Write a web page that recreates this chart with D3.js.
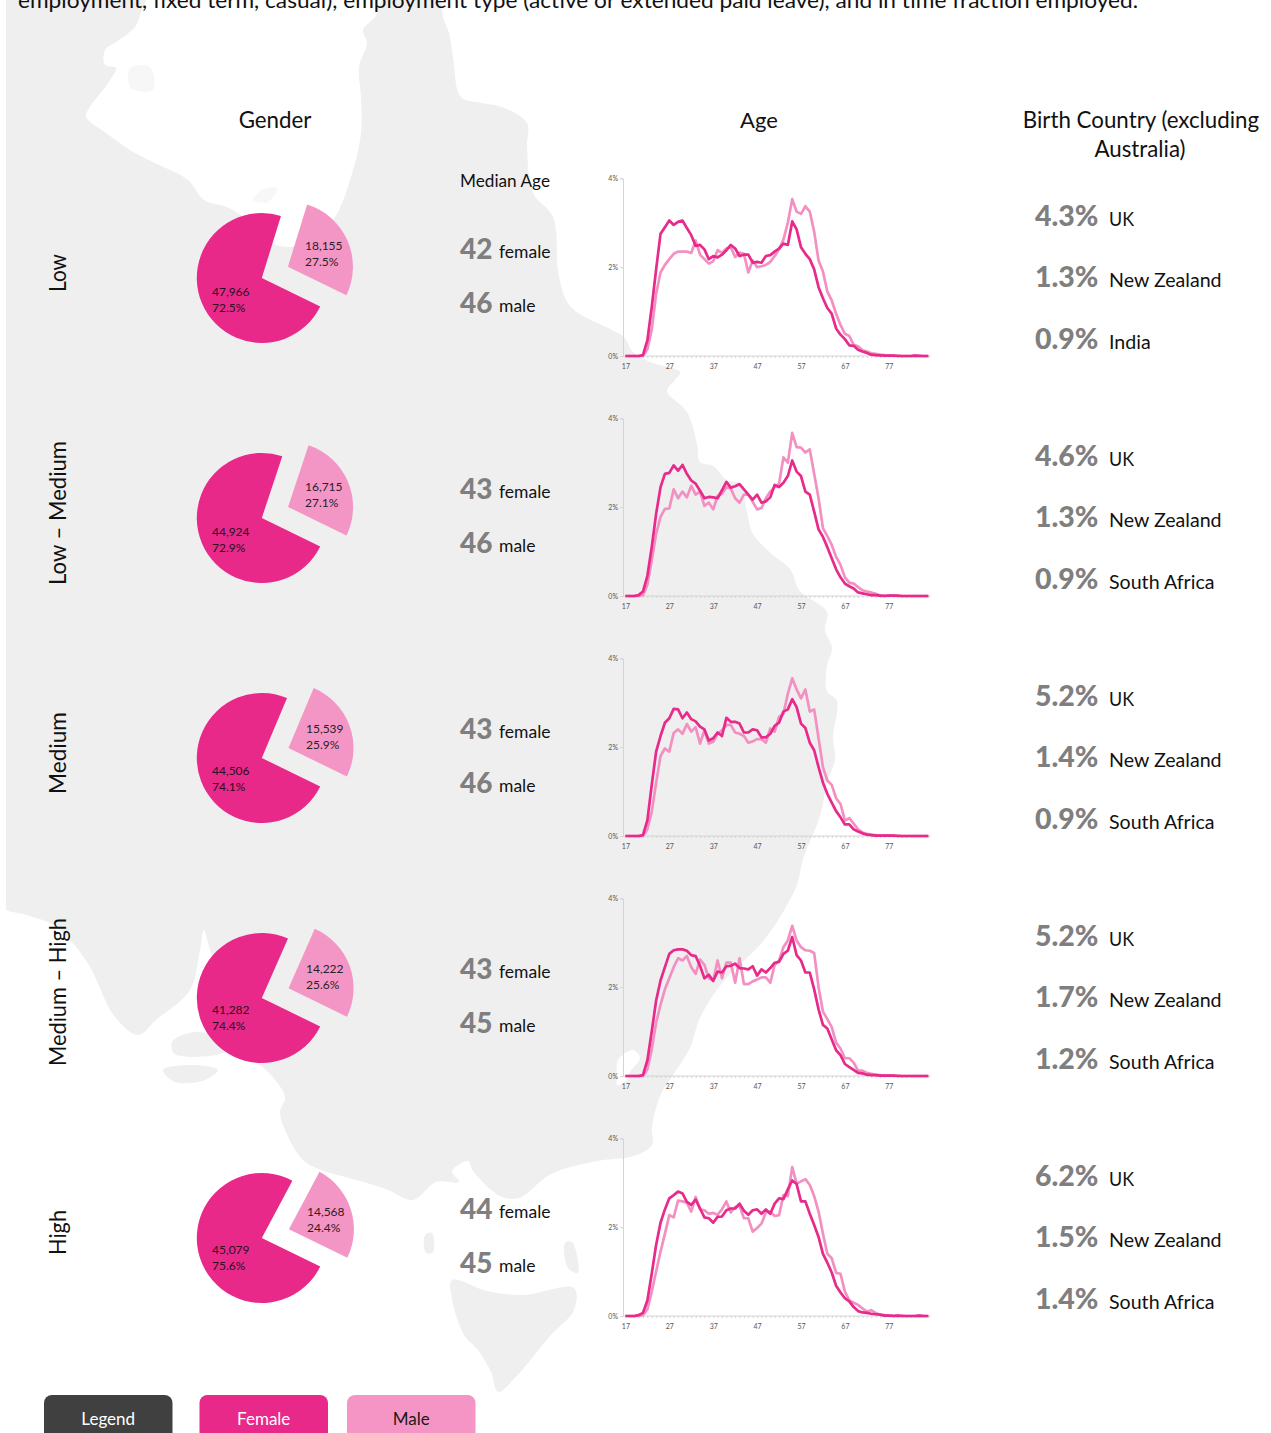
<!DOCTYPE html>
<html><head><meta charset="utf-8">
<script src="https://cdn.jsdelivr.net/npm/d3@7"></script>
<style>html,body{margin:0;padding:0;background:#fff;overflow:hidden}svg{display:block}text{font-family:Lato,sans-serif}</style>
</head><body><svg id="c" width="1271" height="1433"></svg>
<script>
// ---------- data ----------
const bands = ["Low","Low – Medium","Medium","Medium – High","High"];
const femaleCounts = [47966,44924,44506,41282,45079];
const maleCounts = [18155,16715,15539,14222,14568];
const femaleShares = ["72.5%","72.9%","74.1%","74.4%","75.6%"];
const maleShares = ["27.5%","27.1%","25.9%","25.6%","24.4%"];
const femaleMedian = [42,43,43,43,44];
const maleMedian = [46,46,46,45,45];
const countryNames = [["UK","New Zealand","India"],["UK","New Zealand","South Africa"],["UK","New Zealand","South Africa"],["UK","New Zealand","South Africa"],["UK","New Zealand","South Africa"]];
const countryShares = [["4.3%","1.3%","0.9%"],["4.6%","1.3%","0.9%"],["5.2%","1.4%","0.9%"],["5.2%","1.7%","1.2%"],["6.2%","1.5%","1.4%"]];
const ages = d3.range(17,87);
const ageTicks = [17,27,37,47,57,67,77];
const pctTicks = [0,2,4];
const femaleLow = [0,0,0,0,.02,.35,1.1,1.95,2.75,2.9,3.05,2.95,3.02,3.05,2.88,2.72,2.48,2.5,2.4,2.18,2.25,2.22,2.28,2.38,2.5,2.42,2.25,2.28,2.28,2.1,2.12,2.1,2.25,2.27,2.35,2.42,2.53,2.5,3.03,2.85,2.45,2.3,2.18,1.95,1.55,1.3,1.08,.95,.62,.48,.38,.24,.23,.14,.1,.07,.03,.02,.015,.01,.01,.01,0,0,0,0,.01,0,0,0];
const maleLow = [0,0,0,0,0,.15,.6,1.4,1.88,2.05,2.18,2.3,2.35,2.35,2.35,2.32,2.6,2.28,2.18,2.08,2.13,2.38,2.32,2.42,2.45,2.23,2.33,2.3,1.88,2.15,2,2.02,2.05,2.12,2.25,2.4,2.62,3,3.53,3.25,3.2,3.37,3.25,2.8,2.15,1.9,1.45,1.25,.95,.7,.5,.45,.25,.22,.13,.1,.06,.05,.03,.02,.01,.01,.01,0,0,0,.01,.01,0,0];
const femaleLowMed = [0,0,0,.02,.1,.45,1.1,1.85,2.45,2.75,2.77,2.94,2.82,2.95,2.75,2.6,2.53,2.37,2.2,2.23,2.22,2.2,2.38,2.57,2.44,2.47,2.52,2.4,2.28,2.17,2.28,2.1,2.13,2.22,2.5,2.45,2.55,2.7,3.05,2.8,2.7,2.35,2.28,1.9,1.5,1.33,1.1,.85,.6,.42,.28,.22,.17,.08,.06,.04,.02,.02,.01,0,.01,.01,.01,0,0,0,0,0,0,0];
const maleLowMed = [0,0,0,0,.02,.25,.8,1.4,1.78,1.96,1.97,2.4,2.2,2.35,2.22,2.48,2.28,2.35,2.03,2.1,1.95,2.25,2.3,2.45,2.42,2.2,2.1,2.28,2.28,2.12,1.95,1.98,2.2,2.35,2.45,2.53,3.12,3,3.67,3.35,3.34,3.23,3.3,2.75,2.2,1.53,1.35,1.15,.88,.7,.42,.3,.28,.2,.13,.1,.08,.05,.01,.01,.01,.01,0,0,0,0,0,0,0,0];
const femaleMedium = [0,0,0,0,.02,.35,1.15,1.9,2.25,2.55,2.65,2.86,2.85,2.65,2.78,2.63,2.58,2.46,2.4,2.15,2.2,2.33,2.25,2.66,2.57,2.57,2.53,2.33,2.33,2.4,2.38,2.22,2.22,2.3,2.48,2.55,2.8,2.85,3.08,2.9,2.53,2.43,2.1,1.93,1.55,1.2,.95,.75,.56,.42,.26,.26,.15,.1,.06,.03,.02,.01,.01,.01,.01,.01,0,0,0,0,0,0,0,0];
const maleMedium = [0,0,0,0,0,.15,.55,1.2,1.8,1.97,1.9,2.32,2.4,2.3,2.52,2.35,2.45,2.08,2.38,2.08,2.12,2.3,2.38,2.5,2.5,2.33,2.3,2.25,2.1,2.13,2.18,2.18,2.1,2.42,2.35,2.68,2.75,3.2,3.55,3.3,3.1,3.3,2.8,2.85,2.2,1.55,1.25,1.15,.85,.72,.35,.4,.28,.15,.08,.05,.03,.02,.01,.01,.01,.01,.01,0,0,0,0,0,0,0];
const femaleMedHigh = [0,0,0,0,.02,.35,1,1.7,2.15,2.45,2.75,2.83,2.85,2.85,2.82,2.72,2.7,2.48,2.2,2.28,2.14,2.35,2.33,2.47,2.48,2.53,2.43,2.42,2.4,2.47,2.26,2.4,2.33,2.43,2.55,2.57,2.75,2.82,3.13,2.72,2.6,2.33,2.33,1.95,1.5,1.15,1.07,.82,.58,.47,.27,.2,.14,.07,.06,.03,.02,.02,.01,.01,.01,.01,0,0,0,0,0,0,0,0];
const maleMedHigh = [0,0,0,0,0,.15,.6,1.2,1.6,1.95,2.2,2.45,2.65,2.6,2.7,2.45,2.3,2.62,2.5,2.2,2.15,2.6,2.2,2.55,2.55,2.1,2.65,2.07,2.07,2.13,2.17,2.22,2.22,2.1,2.5,2.6,2.9,3.05,3.38,3.05,2.9,2.83,2.82,2.77,2,1.45,1.28,1.1,.75,.62,.4,.4,.3,.12,.12,.07,.05,.03,.02,.01,.01,.01,.01,0,0,0,0,0,0,0];
const femaleHigh = [0,0,0,.02,.07,.35,.95,1.6,2.1,2.4,2.65,2.72,2.8,2.76,2.57,2.5,2.62,2.42,2.22,2.2,2.1,2.23,2.24,2.38,2.42,2.42,2.53,2.37,2.28,2.38,2.4,2.3,2.4,2.3,2.53,2.65,2.63,2.85,3.05,2.97,2.58,2.58,2.3,2.05,1.78,1.4,1.2,.98,.68,.53,.4,.33,.2,.11,.08,.07,.05,.04,.03,.01,.01,0,.01,0,0,0,0,.01,0,0];
const maleHigh = [0,0,0,0,.02,.15,.55,1,1.45,1.85,2.27,2.22,2.6,2.58,2.55,2.35,2.68,2.4,2.38,2.3,2.32,2.28,2.4,2.58,2.33,2.45,2.48,2.2,2.2,1.9,1.98,2.08,2.33,2.35,2.25,2.27,2.72,2.7,3.35,2.98,3.03,3.08,2.95,2.7,2.35,1.85,1.4,1.3,.97,.95,.55,.35,.3,.25,.17,.1,.13,.07,.03,.02,.01,.01,.01,.01,0,0,0,.01,0,0];
const femaleSeries = [femaleLow,femaleLowMed,femaleMedium,femaleMedHigh,femaleHigh];
const maleSeries = [maleLow,maleLowMed,maleMedium,maleMedHigh,maleHigh];
const legendItems = ["Legend","Female","Male"];

// background silhouette outline (decorative)
const mainland = [[0,-5],[145,-5],[141,12],[135,27],[116,42],[105,50],[105,65],[116,68],[108,83],[88,110],[86,117],[106,133],[135,153],[155,163],[188,180],[204,200],[229,208],[262,232],[272,243],[290,247],[312,240],[335,217],[351,177],[361,133],[361,97],[359,67],[367,43],[363,30],[375,17],[386,-5],[438,-5],[443,17],[449,33],[453,57],[461,97],[482,103],[502,107],[527,123],[527,147],[533,193],[553,217],[559,277],[571,307],[612,330],[624,337],[633,352],[650,362],[680,372],[675,380],[667,391],[687,412],[697,444],[700,462],[713,466],[727,480],[740,484],[747,512],[753,534],[773,555],[790,569],[800,591],[827,612],[825,630],[832,648],[827,666],[827,691],[837,701],[833,737],[835,759],[827,783],[820,816],[803,859],[797,885],[787,905],[773,928],[757,948],[723,982],[700,1018],[690,1048],[673,1075],[661,1094],[652,1127],[652,1145],[634,1156],[597,1161],[551,1174],[519,1198],[500,1196],[473,1171],[468,1161],[452,1171],[459,1182],[436,1182],[413,1200],[386,1189],[349,1178],[321,1170],[303,1160],[285,1130],[280,1112],[285,1097],[271,1075],[245,1050],[230,1000],[210,950],[204,930],[200,950],[190,990],[156,1020],[138,1035],[115,1017],[87,962],[55,926],[27,915],[0,904],[-8,500]];
const tasmania = [[452,1280],[487,1291],[523,1295],[574,1288],[574,1310],[551,1335],[514,1379],[498,1392],[491,1372],[478,1350],[464,1335],[452,1299]];
const isles = [[[163,1070],[190,1065],[218,1070],[205,1080],[175,1082]],[[172,1042],[195,1032],[230,1042],[225,1052],[175,1054]],[[425,1235],[432,1233],[433,1252],[426,1253]],[[565,1243],[572,1242],[578,1273],[568,1268]]];
const faintIsles = [[[253,200],[262,190],[277,188],[268,202]],[[130,68],[150,67],[153,90],[131,88]]];
const bayHole = [[617,1078],[618,1060],[633,1050],[640,1058],[630,1072],[625,1082],[617,1085]];

// ---------- colours ----------
const FEMALE="#E8298A", MALE="#F390C2", GREY="#7F7F7F", LAND="#EFEFEF";

// ---------- drawing ----------
const svg=d3.select("#c");
const poly=d3.line().curve(d3.curveCatmullRomClosed.alpha(0.5));
const land=svg.append("g").attr("fill",LAND);
[mainland,tasmania,...isles].forEach(p=>land.append("path").attr("d",poly(p)));
faintIsles.forEach(p=>land.append("path").attr("d",poly(p)).attr("fill","#F7F7F7"));
land.append("path").attr("d",poly(bayHole)).attr("fill","#fff");
// left page margin stays white
svg.append("rect").attr("x",0).attr("y",0).attr("width",6).attr("height",1433).attr("fill","#fff");

const defs=svg.append("defs");
defs.append("filter").attr("id","soft").attr("x","-5%").attr("y","-5%").attr("width","110%").attr("height","110%")
  .append("feGaussianBlur").attr("stdDeviation",0.45);

function label(g,str,x,y,size,opt={}){
  const t=g.append("text").attr("x",x).attr("y",y).attr("font-size",size).attr("fill",opt.fill||"#111")
    .attr("text-anchor",opt.anchor||"start").attr("font-weight",opt.weight||400).text(str);
  if(opt.length) t.attr("textLength",opt.length).attr("lengthAdjust","spacingAndGlyphs");
  if(opt.rotate) t.attr("transform",`rotate(-90 ${x} ${y})`);
  return t;
}

label(svg,"employment, fixed term, casual), employment type (active or extended paid leave), and in time fraction employed.",18,8,20.5,{length:1120});
label(svg,"Gender",275,128,22.3,{anchor:"middle"});
label(svg,"Age",759,128,22,{anchor:"middle"});
label(svg,"Birth Country (excluding",1141,128,22.3,{anchor:"middle"});
label(svg,"Australia)",1140,157,22.3,{anchor:"middle"});
label(svg,"Median Age",460,187,17.2);

const rowStep=240;
const fmt=d3.format(",");
const x=d3.scaleLinear().domain([17,86.5]).range([625.4,930.5]);
const y=d3.scaleLinear().domain([0,4]);
const line=d3.line().x((d,i)=>x(ages[i]));

bands.forEach((band,i)=>{
  const dy=i*rowStep;
  const g=svg.append("g");
  // row label
  label(g,band,66,[292,585,794,1066,1255][i],22.5,{rotate:true,anchor:"start",length:[38,144,82,148,45][i]});

  // pie
  const cx=261.8, cy=278+dy, r=65, pull=28.5;
  const total=femaleCounts[i]+maleCounts[i];
  const lowerEdge=116*Math.PI/180;
  const start=lowerEdge-2*Math.PI*maleCounts[i]/total;
  const arcs=d3.pie().sort(null).startAngle(start).endAngle(start+2*Math.PI)([maleCounts[i],femaleCounts[i]]);
  const arc=d3.arc().innerRadius(0).outerRadius(r);
  const mid=(arcs[0].startAngle+arcs[0].endAngle)/2;
  g.append("path").attr("d",arc(arcs[1])).attr("transform",`translate(${cx},${cy})`).attr("fill",FEMALE);
  g.append("path").attr("d",arc(arcs[0])).attr("transform",`translate(${cx+pull*Math.sin(mid)},${cy-pull*Math.cos(mid)})`).attr("fill",MALE).attr("opacity",.95);
  const fy=[296,536,775,1014,1254][i], mx=[305,305,306,306,307][i], my=[250,491,733,973,1216][i];
  label(g,fmt(femaleCounts[i]),212,fy,12,{fill:"#2a1020"});
  label(g,femaleShares[i],212,fy+16,12,{fill:"#2a1020"});
  label(g,fmt(maleCounts[i]),mx,my,12,{fill:"#2a2028"});
  label(g,maleShares[i],mx,my+16,12,{fill:"#2a2028"});

  // medians
  label(g,femaleMedian[i],460,259+dy,28,{fill:GREY,weight:900});
  label(g,"female",499,258+dy,17.5);
  label(g,maleMedian[i],460,313+dy,28,{fill:GREY,weight:900});
  label(g,"male",499,312+dy,17.5);

  // age chart
  const top=178.3+dy, bottom=356+dy;
  y.range([bottom,top]);
  const ch=svg.append("g");
  const axL=ch.append("g").attr("transform",`translate(623,0)`).call(d3.axisLeft(y).tickValues(pctTicks).tickFormat(d=>d+"%").tickSize(3).tickPadding(2));
  const axB=ch.append("g").attr("transform",`translate(0,${bottom})`).call(d3.axisBottom(x).tickValues(ages).tickFormat(d=>ageTicks.includes(d)?d:"").tickSize(2).tickPadding(6));
  [axL,axB].forEach(a=>{a.selectAll("path,line").attr("stroke","#d4d4d4").attr("stroke-width",1);
    a.selectAll("text").attr("font-size",7).attr("fill","#555").attr("font-family","Lato,sans-serif");});
  axB.select("path").attr("d",`M623,0H930.5`);
  const series=ch.append("g").attr("filter","url(#soft)").attr("fill","none").attr("stroke-width",2.7).attr("stroke-linejoin","round");
  line.y(d=>y(d));
  series.append("path").attr("d",line(maleSeries[i])).attr("stroke",MALE);
  series.append("path").attr("d",line(femaleSeries[i])).attr("stroke",FEMALE);

  // birth countries
  countryNames[i].forEach((n,k)=>{
    const by=[226,287,349][k]+dy;
    label(g,countryShares[i][k],1035,by,28.5,{fill:GREY,weight:900});
    label(g,n,1109,by,19.6,n==="UK"?{length:25}:{});
  });
});

// legend
const lx=[44,199.5,347];
const ltx=["#fff","#fff","#1a1a1a"];
legendItems.forEach((s,i)=>{
  svg.append("rect").attr("x",lx[i]).attr("y",1395).attr("width",128.5).attr("height",60).attr("rx",8)
     .attr("fill",["#404040",FEMALE,"#F595C5"][i]);
  label(svg,s,lx[i]+64.2,1425,17,{anchor:"middle",fill:ltx[i]});
});
</script></body></html>
